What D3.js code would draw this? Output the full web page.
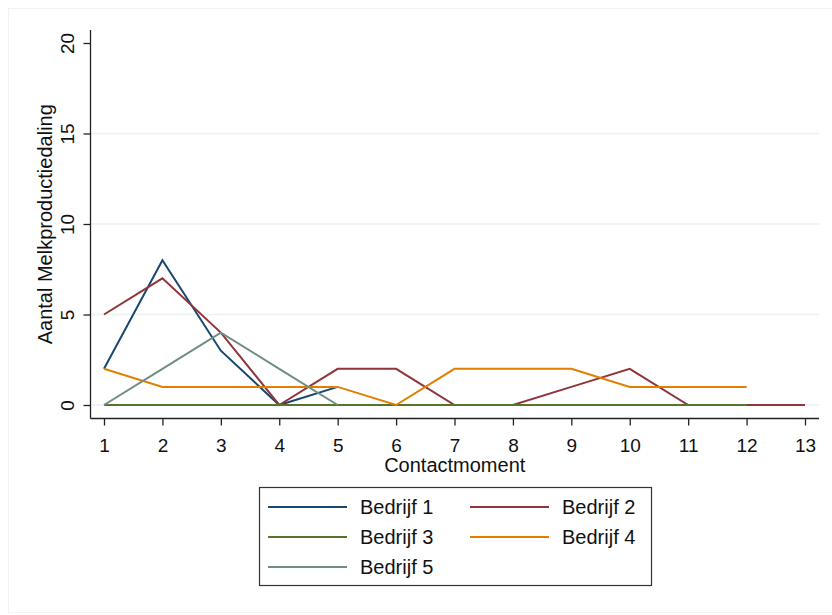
<!DOCTYPE html>
<html>
<head>
<meta charset="utf-8">
<script src="https://cdn.jsdelivr.net/npm/d3@7"></script>
<style>
  body { margin: 0; background: #fff; }
  svg { display: block; font-family: Arial, "Liberation Sans", sans-serif; }
</style>
</head>
<body>
<svg id="chart"></svg>
<script>
// data
const contactmoment = [1, 2, 3, 4, 5, 6, 7, 8, 9, 10, 11, 12, 13];
const yTicks = [0, 5, 10, 15, 20];
const bedrijf1 = [2, 8, 3, 0, 1];
const bedrijf2 = [5, 7, 4, 0, 2, 2, 0, 0, 1, 2, 0, 0, 0];
const bedrijf3 = [0, 0, 0, 0, 0, 0, 0, 0, 0, 0, 0, 0];
const bedrijf4 = [2, 1, 1, 1, 1, 0, 2, 2, 2, 1, 1, 1];
const bedrijf5 = [0, 2, 4, 2, 0];
const seriesNames = ["Bedrijf 1", "Bedrijf 2", "Bedrijf 3", "Bedrijf 4", "Bedrijf 5"];
const seriesColors = ["#1a476f", "#90353b", "#55752f", "#e37e00", "#6e8e84"];

const series = [bedrijf1, bedrijf2, bedrijf3, bedrijf4, bedrijf5].map((vals, i) => ({
  name: seriesNames[i],
  color: seriesColors[i],
  points: vals.map((v, j) => ({ x: contactmoment[j], y: v }))
}));

const width = 832, height = 615;
const svg = d3.select('#chart').attr('width', width).attr('height', height);

// faint outer frame
svg.append('rect')
  .attr('x', 8.5).attr('y', 8.5)
  .attr('width', 830).attr('height', 604)
  .attr('fill', 'none').attr('stroke', '#f2f2f2');

const x = d3.scaleLinear().domain([1, 13]).range([104, 805]);
const y = d3.scaleLinear().domain([0, 20]).range([405, 43]);
const axisLeftX = 90.5, axisBottomY = 418.5, plotRight = 819, plotTop = 30;

// gridlines
svg.append('g')
  .selectAll('line')
  .data(yTicks.filter(d => d < 20))
  .join('line')
    .attr('x1', axisLeftX).attr('x2', plotRight)
    .attr('y1', d => y(d)).attr('y2', d => y(d))
    .attr('stroke', '#eaf2f3').attr('stroke-width', 1.5);

// y axis
const yAxis = svg.append('g')
  .attr('transform', `translate(${axisLeftX},0)`)
  .call(d3.axisLeft(y).tickValues(yTicks).tickSize(7).tickFormat(d3.format('d')));
yAxis.select('.domain').attr('d', `M0,${plotTop}V${axisBottomY}`).attr('stroke', '#222').attr('stroke-width', 1.3);
yAxis.selectAll('.tick line').attr('stroke', '#222').attr('stroke-width', 1.3);
yAxis.selectAll('.tick text')
  .attr('font-size', 19).attr('fill', '#111')
  .attr('x', 0).attr('dy', null)
  .attr('text-anchor', 'middle')
  .attr('transform', 'translate(-17,0) rotate(-90)');

// x axis
const xAxis = svg.append('g')
  .attr('transform', `translate(0,${axisBottomY})`)
  .call(d3.axisBottom(x).tickValues(contactmoment).tickSize(7).tickFormat(d3.format('d')));
xAxis.select('.domain').attr('d', `M${axisLeftX},0H${plotRight}`).attr('stroke', '#222').attr('stroke-width', 1.3);
xAxis.selectAll('.tick line').attr('stroke', '#222').attr('stroke-width', 1.3);
xAxis.selectAll('.tick text')
  .attr('font-size', 19).attr('fill', '#111')
  .attr('y', 33).attr('dy', null);

// axis titles
svg.append('text')
  .attr('x', (axisLeftX + plotRight) / 2).attr('y', 472)
  .attr('text-anchor', 'middle').attr('font-size', 20).attr('fill', '#111')
  .text('Contactmoment');
svg.append('text')
  .attr('transform', `translate(52,${(plotTop + axisBottomY) / 2}) rotate(-90)`)
  .attr('text-anchor', 'middle').attr('font-size', 20).attr('fill', '#111')
  .text('Aantal Melkproductiedaling');

// lines
const line = d3.line().x(d => x(d.x)).y(d => y(d.y));
svg.append('g')
  .selectAll('path')
  .data(series)
  .join('path')
    .attr('d', d => line(d.points))
    .attr('fill', 'none')
    .attr('stroke', d => d.color)
    .attr('stroke-width', 2)
    .attr('stroke-linejoin', 'miter');

// legend
const legend = svg.append('g');
legend.append('rect')
  .attr('x', 259.5).attr('y', 487.5)
  .attr('width', 392).attr('height', 98)
  .attr('fill', '#fff').attr('stroke', '#333').attr('stroke-width', 1.2);

const items = legend.selectAll('.legend-item')
  .data(series)
  .join('g')
    .attr('class', 'legend-item')
    .attr('transform', (d, i) => `translate(${i % 2 ? 470 : 268},${507 + Math.floor(i / 2) * 30})`);
items.append('line')
  .attr('x1', 0).attr('x2', 79)
  .attr('stroke', d => d.color).attr('stroke-width', 2);
items.append('text')
  .attr('x', 92).attr('y', 7)
  .attr('font-size', 20).attr('fill', '#111')
  .text(d => d.name);
</script>
</body>
</html>
